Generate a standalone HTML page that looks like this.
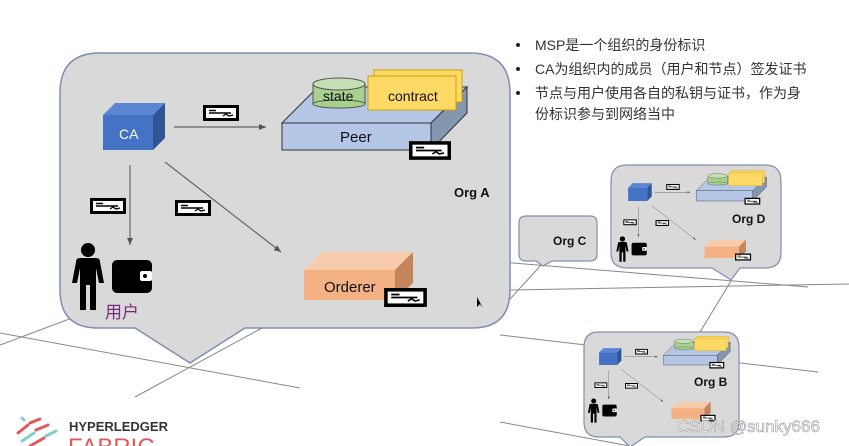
<!DOCTYPE html>
<html><head><meta charset="utf-8"><style>
html,body{margin:0;padding:0;background:#fff;width:849px;height:446px;overflow:hidden}
svg{display:block}
</style></head><body>
<svg width="849" height="446" viewBox="0 0 849 446" xmlns="http://www.w3.org/2000/svg" font-family="Liberation Sans, Noto Sans CJK SC, sans-serif">
<defs>
<symbol id="cert" viewBox="0 0 36 16">
<rect x="1.5" y="1.5" width="33" height="13" fill="#fff" stroke="#000" stroke-width="3"/>
<line x1="6" y1="5.5" x2="13" y2="5.5" stroke="#000" stroke-width="1.5"/>
<line x1="6" y1="8" x2="28" y2="8" stroke="#000" stroke-width="1.5"/>
<path d="M20 11 l3 -2 l3 2 l4 -1" fill="none" stroke="#000" stroke-width="1.3"/>
</symbol>
<marker id="ar" markerWidth="8" markerHeight="8" refX="7" refY="4" orient="auto" markerUnits="userSpaceOnUse"><path d="M0,1 L7,4 L0,7z" fill="#555"/></marker>
<g id="content">
<polygon points="103,115 115,103 165,103 153,115" fill="#5b86d1"/>
<polygon points="153,115 165,103 165,138 153,150" fill="#2f5597"/>
<rect x="103" y="115" width="50" height="35" fill="#4472c4"/>
<line x1="174" y1="127" x2="266" y2="127" stroke="#666" stroke-width="1.2" marker-end="url(#ar)"/>
<line x1="130" y1="165" x2="130" y2="245" stroke="#666" stroke-width="1.2" marker-end="url(#ar)"/>
<line x1="165" y1="162" x2="281" y2="252" stroke="#666" stroke-width="1.2" marker-end="url(#ar)"/>
<use href="#cert" x="203" y="105" width="36" height="16"/>
<use href="#cert" x="90" y="198" width="36" height="16"/>
<use href="#cert" x="175" y="200" width="36" height="16"/>
<polygon points="282,123 318,87 467,87 431,123" fill="#b4c7e7" stroke="#333" stroke-width="1"/>
<polygon points="431,123 467,87 467,113 431,150" fill="#8497b0" stroke="#333" stroke-width="1"/>
<rect x="282" y="123" width="149" height="27" fill="#b4c7e7" stroke="#333" stroke-width="1"/>
<rect x="313" y="84" width="52" height="20" fill="#a9d18e" stroke="#555"/>
<ellipse cx="339" cy="104" rx="26" ry="4" fill="#a9d18e" stroke="#555"/>
<ellipse cx="339" cy="84" rx="26" ry="6" fill="#c5e0b4" stroke="#555"/>
<rect x="374" y="70" width="88" height="32" fill="#ffd966" stroke="#c9a400"/>
<rect x="368" y="76" width="88" height="34" fill="#ffd966" stroke="#c9a400"/>
<use href="#cert" x="409" y="141" width="42" height="19"/>
<polygon points="304,270 322,252 413,252 395,270" fill="#f8cbad"/>
<polygon points="395,270 413,252 413,283 395,300" fill="#c5855a"/>
<rect x="304" y="270" width="91" height="30" fill="#f4b183"/>
<use href="#cert" x="384" y="288" width="43" height="19"/>
<circle cx="88" cy="250" r="7" fill="#000"/>
<path d="M76 262 Q76 258 80 258 L96 258 Q100 258 100 262 L104 283 L99 283 L96 268 L96 310 L90 310 L90 285 L86 285 L86 310 L80 310 L80 268 L77 283 L72 283z" fill="#000"/>
<rect x="112" y="260" width="40" height="33" rx="5" fill="#000"/>
<rect x="140" y="271" width="12" height="10" rx="2" fill="#fff"/><circle cx="145" cy="276" r="2" fill="#000"/>
</g>
</defs>

<g stroke="#888" stroke-width="1" fill="none">
<line x1="0" y1="333" x2="300" y2="388"/>
<line x1="0" y1="345" x2="72" y2="318"/>
<line x1="135" y1="397" x2="262" y2="328"/>
<line x1="500" y1="262" x2="808" y2="287"/>
<line x1="500" y1="310" x2="543" y2="263"/>
<line x1="700" y1="332" x2="731" y2="281"/>
<line x1="500" y1="335" x2="818" y2="372"/>
<line x1="500" y1="422" x2="630" y2="446"/>
<line x1="510" y1="290" x2="849" y2="284"/>
</g>

<path d="M100,53 L470,53 Q510,53 510,93 L510,290 Q510,328 472,328 L245,328 L190,363 L135,328 L98,328 Q60,328 60,290 L60,93 Q60,53 100,53z" fill="#d9d9d9" stroke="#7f8fb3" stroke-width="1.5"/>
<use href="#content"/>
<text x="340" y="142" font-size="15" fill="#111">Peer</text>
<text x="323" y="101" font-size="14" fill="#111">state</text>
<text x="388" y="101" font-size="14" fill="#111">contract</text>
<text x="119" y="139" font-size="14" fill="#fff">CA</text>
<text x="324" y="292" font-size="15" fill="#111">Orderer</text>
<text x="454" y="197" font-size="13" font-weight="bold" fill="#111">Org A</text>
<text x="105" y="318" font-size="17" fill="#7a2a7a">用户</text>
<path d="M477,297 l0,10 l3,-3 l3,4 z" fill="#000"/>

<path d="M526,216 L590,216 Q597,216 597,223 L597,254 Q597,261 590,261 L552,261 L543,266 L536,261 L526,261 Q519,261 519,254 L519,223 Q519,216 526,216z" fill="#d9d9d9" stroke="#7f8fb3" stroke-width="1.2"/>
<text x="553" y="245" font-size="12" font-weight="bold" fill="#111">Org C</text>

<path d="M627,165 L765,165 Q781,165 781,181 L781,253 Q781,268 765,268 L740,268 L731,280 L712,268 L627,268 Q611,268 611,253 L611,181 Q611,165 627,165z" fill="#d9d9d9" stroke="#7f8fb3" stroke-width="1.2"/>
<g transform="translate(589,144) scale(0.38)"><use href="#content"/></g>
<text x="732" y="223" font-size="12" font-weight="bold" fill="#111">Org D</text>

<path d="M599,332 L724,332 Q739,332 739,347 L739,422 Q739,437 724,437 L645,437 L630,447 L620,437 L599,437 Q584,437 584,422 L584,347 Q584,332 599,332z" fill="#d9d9d9" stroke="#7f8fb3" stroke-width="1.2"/>
<g transform="translate(562,311) scale(0.36)"><use href="#content"/></g>
<text x="694" y="386" font-size="12" font-weight="bold" fill="#111">Org B</text>

<g font-size="14" fill="#333">
<circle cx="518" cy="45" r="2" fill="#222"/><text x="535" y="50">MSP是一个组织的身份标识</text>
<circle cx="518" cy="69" r="2" fill="#222"/><text x="535" y="74">CA为组织内的成员（用户和节点）签发证书</text>
<circle cx="518" cy="93" r="2" fill="#222"/><text x="535" y="98">节点与用户使用各自的私钥与证书，作为身</text>
<text x="535" y="119">份标识参与到网络当中</text>
</g>

<text x="677" y="432" font-size="17" fill="#fff" stroke="#999" stroke-width="0.6">CSDN @sunky666</text>

<g stroke-width="3" stroke-linecap="round">
<line x1="18" y1="433" x2="28" y2="425" stroke="#e05a5a"/>
<line x1="30" y1="423" x2="40" y2="419" stroke="#e05a5a"/>
<line x1="22" y1="441" x2="34" y2="433" stroke="#7fcfcf"/>
<line x1="36" y1="430" x2="48" y2="425" stroke="#e05a5a"/>
<line x1="30" y1="446" x2="44" y2="438" stroke="#e05a5a"/>
<line x1="46" y1="436" x2="56" y2="431" stroke="#7fcfcf"/>
<line x1="24" y1="420" x2="22" y2="418" stroke="#7fcfcf"/>
</g>
<text x="69" y="431" font-size="13" font-weight="bold" fill="#333">HYPERLEDGER</text>
<text x="68" y="455" font-size="24" fill="#e05a5a">FABRIC</text>
</svg>
</body></html>
